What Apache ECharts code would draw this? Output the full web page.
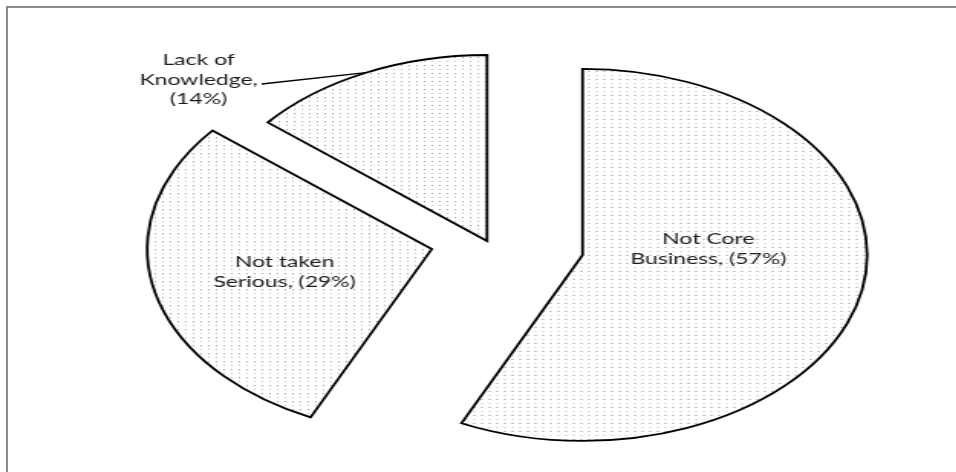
<!DOCTYPE html>
<html>
<head>
<meta charset="utf-8">
<script src="https://cdn.jsdelivr.net/npm/echarts@6/dist/echarts.min.js"></script>
<style>
  html, body { margin: 0; padding: 0; background: #fff; width: 956px; height: 472px; overflow: hidden; }
  #frame {
    position: absolute; left: 6px; top: 6px; width: 960px; height: 480px;
    border-top: 2px solid #8c8c8c; border-left: 2px solid #8c8c8c; box-sizing: border-box;
  }
  /* the pie is laid out in a narrower box and widened, giving the oval shape */
  #chart { position: absolute; left: 0; top: 0; width: 625px; height: 472px;
           transform: scaleX(1.53); transform-origin: 0 0; }
</style>
</head>
<body>
<div id="frame"></div>
<div id="chart"></div>
<script>
// Reasons given, share of respondents (%)
const categories = ['Not Core\nBusiness', 'Not taken\nSerious', 'Lack of\nKnowledge'];
const shares = [57, 29, 14];
// how far each slice is pulled out of the pie
const explode = [64, 37, 0];

// dotted fill
const tile = document.createElement('canvas');
tile.width = 5; tile.height = 8;
const g = tile.getContext('2d');
g.fillStyle = '#ffffff'; g.fillRect(0, 0, 5, 8);
g.fillStyle = '#8e8e8e'; g.fillRect(2, 1, 1, 1);
g.fillStyle = '#bdbdbd'; g.fillRect(2, 5, 1, 1);

const baseStyle = {
  color: { image: tile, repeat: 'repeat' },
  borderColor: '#000', borderWidth: 1.8, borderJoin: 'miter', borderMiterLimit: 20
};
const hiddenStyle = { color: 'rgba(0,0,0,0)', borderWidth: 0 };

const common = {
  type: 'pie',
  center: [318.3, 241],
  radius: 186,
  startAngle: 90,
  clockwise: true,
  avoidLabelOverlap: false,
  emphasis: { disabled: true }
};

// one pie per slice so that each can be pulled out by its own amount
const slices = shares.map((_, k) => Object.assign({}, common, {
  selectedMode: 'single',
  selectedOffset: explode[k],
  select: { itemStyle: baseStyle, label: { show: false } },
  label: { show: false },
  labelLine: { show: false },
  data: shares.map((v, i) => i === k
    ? { name: categories[i], value: v, selected: true, itemStyle: baseStyle }
    : { name: categories[i], value: v, itemStyle: hiddenStyle })
}));

// data labels, carried by an invisible copy of the pie
const labelFont = { fontFamily: 'Lato', fontSize: 15, lineHeight: 19.5, color: '#1c1c1c', opacity: 1 };
const labels = Object.assign({}, common, {
  itemStyle: hiddenStyle,
  labelLayout: (p) => {
    if (p.dataIndex === 0) return { x: 463, y: 249, align: 'center', verticalAlign: 'middle' };
    if (p.dataIndex === 1) return { x: 186, y: 272, align: 'center', verticalAlign: 'middle' };
    const pts = p.labelLinePoints;
    return {
      x: 168.5 - p.labelRect.width / 2, y: 80, align: 'center', verticalAlign: 'middle',
      labelLinePoints: pts ? [pts[0], [171, 84], [171, 84]] : undefined
    };
  },
  data: shares.map((v, i) => ({
    name: categories[i], value: v,
    label: Object.assign({
      show: true,
      position: i === 2 ? 'outside' : 'inside',
      formatter: i === 2 ? '{b},\n({c}%)' : '{b}, ({c}%)'
    }, labelFont),
    labelLine: { show: i === 2, length: 10, length2: 10, lineStyle: { color: '#000', width: 1.3 } }
  }))
});

const chart = echarts.init(document.getElementById('chart'), null, { renderer: 'canvas' });
chart.setOption({ animation: false, silent: true, series: slices.concat([labels]) });
</script>
</body>
</html>
